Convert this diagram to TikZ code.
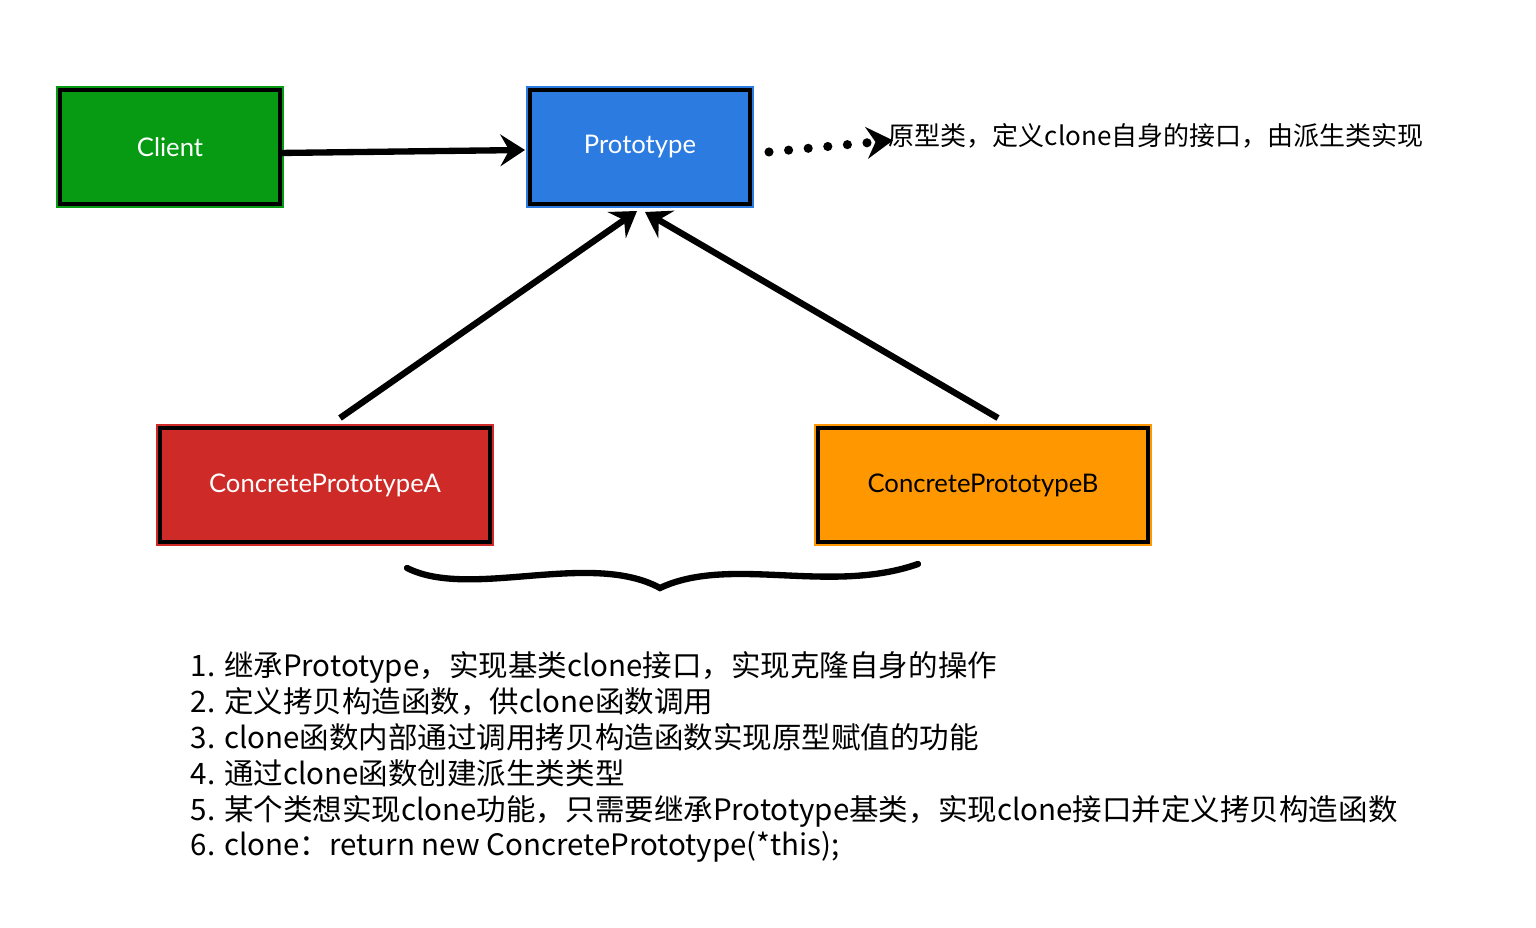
\documentclass[tikz,border=0pt]{standalone}
\usepackage{fontspec}
\setmainfont{Noto Sans CJK SC}
\newfontfamily\labelfont{Lato}
\usetikzlibrary{arrows.meta,positioning}
\definecolor{ink}{HTML}{000000}
\definecolor{clientgreen}{HTML}{069B12}
\definecolor{protoblue}{HTML}{2C7BE0}
\definecolor{concred}{HTML}{CE2A28}
\definecolor{concorange}{HTML}{FF9800}
\tikzset{
  box/.style={draw=ink, line width=1.4pt, minimum width=2.2cm, minimum height=1.14cm,
              inner sep=0pt, outer sep=0pt, font=\labelfont\fontsize{7.3}{8}\selectfont},
  widebox/.style={box, minimum width=3.3cm},
  boxfill/.style={fill=#1, preaction={draw=#1, line width=2.0pt}},
  arr/.style={-{Stealth[length=7pt, width=9pt, inset=2.5pt]}, line width=1.8pt, draw=ink},
  dotarr/.style={-{Stealth[length=7.5pt, width=9pt, inset=2.5pt]}, line width=2.6pt, draw=ink,
                 line cap=round, dash pattern=on 0pt off 5.6pt},
  brace/.style={line width=1.8pt, draw=ink, line cap=round},
  note/.style={font=\fontsize{7.4}{9}\selectfont, inner sep=0pt},
  steps/.style={font=\fontsize{8.4}{10.2}\selectfont, align=left, inner sep=0pt},
}
\begin{document}
\begin{tikzpicture}
\path[use as bounding box] (0,0) rectangle (15.36,-9.28);

% --- classes ---
\node[box, boxfill=clientgreen, text=white] (client) at (1.70,-1.47) {Client};
\node[box, boxfill=protoblue, text=white] (proto) at (6.40,-1.47) {Prototype};
\node[widebox, boxfill=concred, text=white] (concA) at (3.25,-4.85) {ConcretePrototypeA};
\node[widebox, boxfill=concorange, text=ink] (concB) at (9.83,-4.85) {ConcretePrototypeB};

% --- note on Prototype ---
\node[note, anchor=base west] (protonote) at (8.88,-1.46) {原型类，定义clone自身的接口，由派生类实现};

% --- relations ---
\draw[arr] ([yshift=-0.06cm]client.east) -- ([xshift=-0.05cm,yshift=-0.03cm]proto.west);
\draw[arr] ([xshift=0.15cm,yshift=0.1cm]concA.north) -- ([xshift=-0.03cm,yshift=-0.07cm]proto.south);
\draw[arr] ([xshift=0.15cm,yshift=0.1cm]concB.north) -- ([xshift=0.05cm,yshift=-0.08cm]proto.south);
\draw[dotarr] ([xshift=0.19cm,yshift=-0.05cm]proto.east) -- ([xshift=0.05cm,yshift=-0.04cm]protonote.west);

% --- brace under the two concrete classes ---
\draw[brace] (4.07,-5.68) .. controls (4.7,-6.0) and (5.9,-5.5) .. (6.60,-5.88)
  .. controls (7.3,-5.55) and (8.3,-5.95) .. (9.18,-5.64);

% --- notes (base = last line) ---
\node[steps, anchor=base west] (stepnotes) at (1.90,-8.56) {%
1. 继承Prototype，实现基类clone接口，实现克隆自身的操作\\
2. 定义拷贝构造函数，供clone函数调用\\
3. clone函数内部通过调用拷贝构造函数实现原型赋值的功能\\
4. 通过clone函数创建派生类类型\\
5. 某个类想实现clone功能，只需要继承Prototype基类，实现clone接口并定义拷贝构造函数\\
6. clone：return new ConcretePrototype(*this);};

\end{tikzpicture}
\end{document}
